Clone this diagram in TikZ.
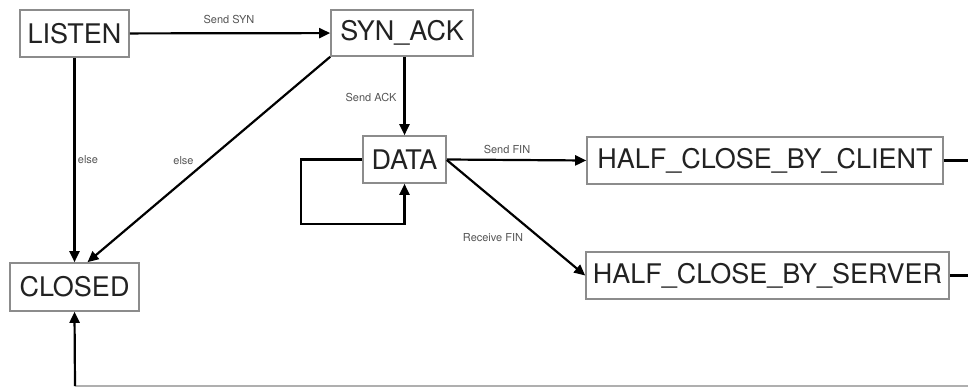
\documentclass[tikz,border=0pt]{standalone}
\usepackage{fontspec}
\setmainfont{TeX Gyre Heros}
\usetikzlibrary{arrows.meta,calc}
\definecolor{boxgray}{HTML}{8C8C8C}
\definecolor{txtdark}{HTML}{222222}
\definecolor{lblgray}{HTML}{555555}
\tikzset{
  state/.style={draw=boxgray,line width=1.6pt,rectangle,inner sep=0pt,text=txtdark,font=\fontsize{27}{29}\selectfont},
  conn/.style={draw=black,line width=2.2pt},
  arr/.style={conn,-{Triangle[length=11pt,width=10pt]}},
  lbl/.style={text=lblgray,font=\fontsize{11}{12}\selectfont,inner sep=0pt}
}
\begin{document}
\begin{tikzpicture}[x=1pt,y=-1pt]
\useasboundingbox (0,0) rectangle (968,387);
\node[state,minimum width=109pt,minimum height=47pt] (listen) at (74.5,33.5) {LISTEN};
\node[state,minimum width=142pt,minimum height=46pt] (synack) at (402,33) {SYN\_ACK};
\node[state,minimum width=83pt,minimum height=47pt] (data) at (404.5,159.5) {DATA};
\node[state,minimum width=356pt,minimum height=47pt] (hcc) at (765,160.5) {HALF\_CLOSE\_BY\_CLIENT};
\node[state,minimum width=363pt,minimum height=47pt] (hcs) at (767.5,275.5) {HALF\_CLOSE\_BY\_SERVER};
\node[state,minimum width=129pt,minimum height=48pt] (closed) at (74.5,287) {CLOSED};
\coordinate (e1) at (968,160.5);
\coordinate (e2) at (968,275.5);
\coordinate (e3) at (968,386);
\coordinate (c3) at (75,386);

\draw[arr] (listen) -- (synack);
\draw[arr] (listen.south) -- (closed.north);
\draw[arr] (synack.south west) -- ([xshift=13pt]closed.north);
\draw[arr] (data.north |- synack.south) -- (data.north);
\draw[arr] (data.west) -- ++(-61,0) |- ([yshift=-40pt]data.south) -- (data.south);
\draw[arr] (data.east) -- (hcc.west);
\draw[arr] ([yshift=-0.5pt]data.east) -- (hcs.west);
\draw[conn] (hcc.east) -- (e1);
\draw[conn] (hcs.east) -- (e2);
\draw[draw=boxgray!70,line width=1.5pt] (e3) -- (c3);
\draw[arr] (c3) -- (closed.south);

\node[lbl] (l1) at (229,19) {Send SYN};
\node[lbl] (l2) at (88,160) {else};
\node[lbl] (l3) at (183.5,161) {else};
\node[lbl] (l4) at (371,97) {Send ACK};
\node[lbl] (l5) at (507,149) {Send FIN};
\node[lbl] (l6) at (493,238) {Receive FIN};
\end{tikzpicture}
\end{document}
